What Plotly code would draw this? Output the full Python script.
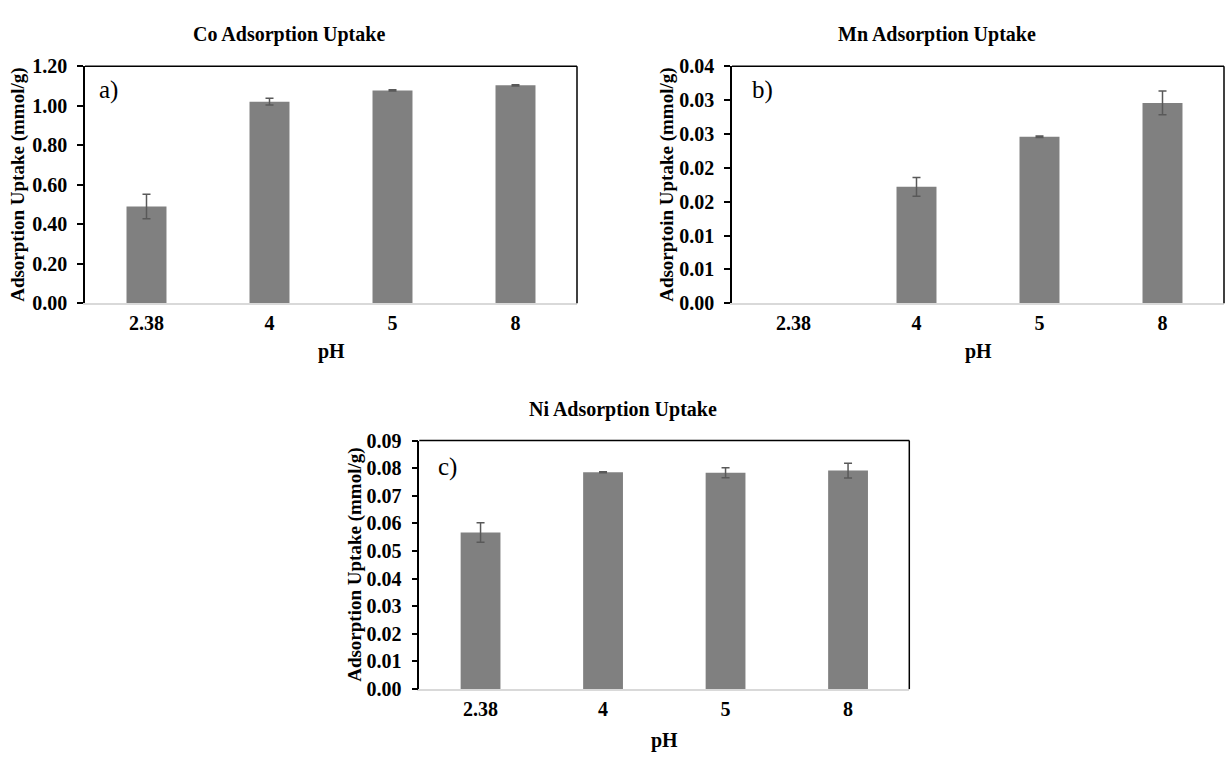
import plotly.graph_objects as go

# pH categories shared by all three panels
ph_labels = ["2.38", "4", "5", "8"]

# Co uptake (mmol/g) with standard deviations
co_uptake = [0.49, 1.021, 1.078, 1.104]
co_err = [0.062, 0.017, 0.003, 0.003]

# Mn uptake (mmol/g); no uptake measured at pH 2.38
mn_uptake = [None, 0.0172, 0.0246, 0.0296]
mn_err = [None, 0.0014, 0.0001, 0.00175]

# Ni uptake (mmol/g)
ni_uptake = [0.0567, 0.0785, 0.0783, 0.0791]
ni_err = [0.0035, 0.0002, 0.0018, 0.0027]

# y-axis ticks and their two-decimal labels
co_ticks = [0.0, 0.2, 0.4, 0.6, 0.8, 1.0, 1.2]
co_ticktext = ["0.00", "0.20", "0.40", "0.60", "0.80", "1.00", "1.20"]
mn_ticks = [0.0, 0.005, 0.010, 0.015, 0.020, 0.025, 0.030, 0.035]
mn_ticktext = ["0.00", "0.01", "0.01", "0.02", "0.02", "0.03", "0.03", "0.04"]
ni_ticks = [0.0, 0.01, 0.02, 0.03, 0.04, 0.05, 0.06, 0.07, 0.08, 0.09]
ni_ticktext = ["0.00", "0.01", "0.02", "0.03", "0.04", "0.05", "0.06", "0.07", "0.08", "0.09"]

W, H = 1225, 761
FONT = "Liberation Serif"
BAR = "#808080"
ERR = "#595959"


def px(x):
    return x / W


def py(y):
    return 1 - y / H


panels = [
    dict(ax="", values=co_uptake, errs=co_err, ticks=co_ticks, ticktext=co_ticktext,
         rng=[0, 1.2], box=(85, 577, 57, 301), title="Co Adsorption Uptake",
         title_x=289, title_y=24, ylab="Adsorption Uptake (mmol/g)", ylab_x=18,
         tag="a)", tag_x=108, tag_y=81, ph_y=351),
    dict(ax="2", values=mn_uptake, errs=mn_err, ticks=mn_ticks, ticktext=mn_ticktext,
         rng=[0, 0.035], box=(732, 1224, 57, 301), title="Mn Adsorption Uptake",
         title_x=937, title_y=24, ylab="Adsorptoin Uptake (mmol/g)", ylab_x=667,
         tag="b)", tag_x=762, tag_y=81, ph_y=351),
    dict(ax="3", values=ni_uptake, errs=ni_err, ticks=ni_ticks, ticktext=ni_ticktext,
         rng=[0, 0.09], box=(419.3, 909.3, 442.3, 698.3), title="Ni Adsorption Uptake",
         title_x=623, title_y=410, ylab="Adsorption Uptake (mmol/g)", ylab_x=355,
         tag="c)", tag_x=447, tag_y=470, ph_y=751),
]

fig = go.Figure()
annotations = []
shapes = []
layout_axes = {}

for p in panels:
    xa = "x" + p["ax"]
    ya = "y" + p["ax"]
    fig.add_trace(go.Bar(
        x=ph_labels, y=p["values"], xaxis=xa, yaxis=ya,
        marker=dict(color=BAR, line=dict(width=0)),
        error_y=dict(type="data", array=p["errs"], visible=True,
                     color=ERR, thickness=1.5, width=4),
        showlegend=False,
    ))
    x0, x1, y0, y1 = p["box"]
    layout_axes["xaxis" + p["ax"]] = dict(
        domain=[px(x0), px(x1)], anchor=ya, type="category",
        range=[-0.5, 3.5], showline=True, linecolor="#d9d9d9", linewidth=1.5,
        ticks="", ticklabelstandoff=1,
        tickfont=dict(family=FONT, size=20, color="black", weight="bold"),
        showgrid=False, zeroline=False,
    )
    layout_axes["yaxis" + p["ax"]] = dict(
        domain=[py(y1), py(y0)], anchor=xa, range=p["rng"],
        tickvals=p["ticks"], ticktext=p["ticktext"],
        showline=True, linecolor="black", linewidth=1.5,
        ticks="outside", ticklen=6, tickwidth=1.5, tickcolor="black",
        ticklabelstandoff=6,
        tickfont=dict(family=FONT, size=20, color="black", weight="bold"),
        showgrid=False, zeroline=False,
    )
    # top and right frame of the plot area
    shapes.append(dict(type="line", xref=xa + " domain", yref=ya + " domain",
                       x0=0, x1=1, y0=1, y1=1, line=dict(color="black", width=1.5)))
    shapes.append(dict(type="line", xref=xa + " domain", yref=ya + " domain",
                       x0=1, x1=1, y0=0, y1=1, line=dict(color="black", width=1.5)))
    annotations.append(dict(x=px(p["title_x"]), y=py(p["title_y"]), xref="paper", yref="paper",
                            text="<b>%s</b>" % p["title"], showarrow=False,
                            font=dict(family=FONT, size=20, color="black"),
                            xanchor="center", yanchor="middle"))
    annotations.append(dict(x=px(p["ylab_x"]), y=py((y0 + y1) / 2), xref="paper", yref="paper",
                            text="<b>%s</b>" % p["ylab"], showarrow=False, textangle=-90,
                            font=dict(family=FONT, size=19, color="black"),
                            xanchor="center", yanchor="middle"))
    annotations.append(dict(x=px((x0 + x1) / 2), y=py(p["ph_y"]), xref="paper", yref="paper",
                            text="<b>pH</b>", showarrow=False,
                            font=dict(family=FONT, size=20, color="black"),
                            xanchor="center", yanchor="middle"))
    annotations.append(dict(x=px(p["tag_x"]), y=py(p["tag_y"]), xref="paper", yref="paper",
                            text=p["tag"], showarrow=False,
                            font=dict(family=FONT, size=25, color="black"),
                            xanchor="center", yanchor="middle"))

fig.update_layout(
    width=W, height=H, margin=dict(l=0, r=0, t=0, b=0),
    paper_bgcolor="white", plot_bgcolor="white",
    bargap=0.675, annotations=annotations, shapes=shapes,
    font=dict(family=FONT, color="black"),
    **layout_axes,
)

fig.write_html("out.html")
